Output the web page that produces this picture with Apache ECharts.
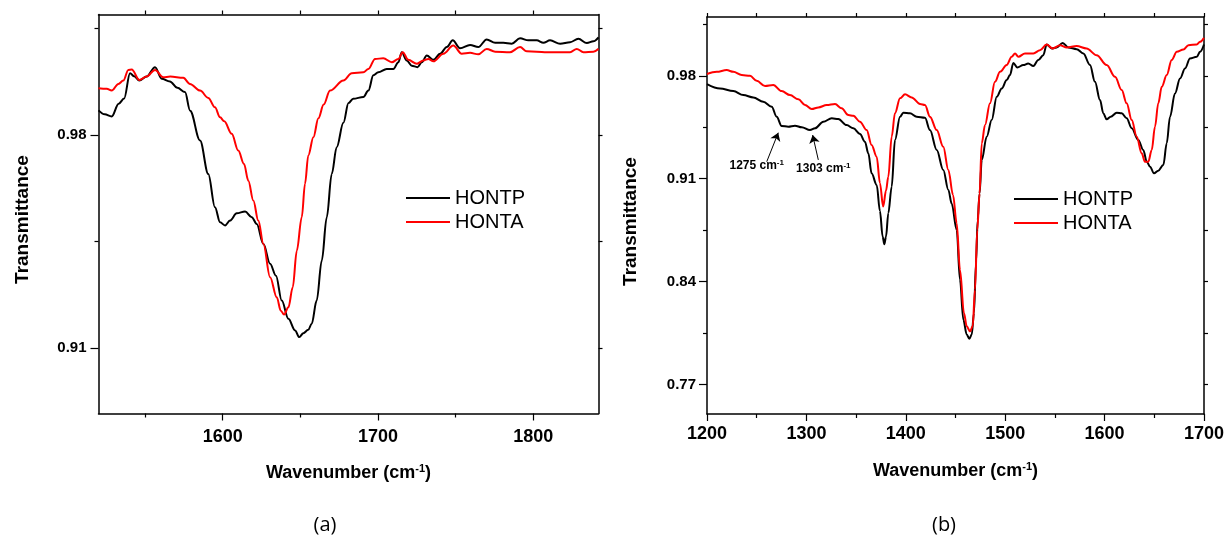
<!DOCTYPE html>
<html><head><meta charset="utf-8">
<script src="https://cdn.jsdelivr.net/npm/echarts@6/dist/echarts.min.js"></script>
<style>html,body{margin:0;padding:0;background:#fff}#c{width:1228px;height:537px}</style>
</head><body><div id="c"></div><script>
const FONT = '"Liberation Sans", Arial, Helvetica, sans-serif';

// ---- data: [wavenumber, transmittance] ----
const leftHONTP = [[1520,0.9881],[1524,0.9868],[1528.5,0.9861],[1533,0.9903],[1536.5,0.9920],[1540.3,1.0003],[1543,0.9993],[1546.3,0.9979],[1551,0.9992],[1556.4,1.0023],[1560.7,0.9985],[1566,0.9976],[1570.8,0.9955],[1575.7,0.9941],[1579,0.9880],[1585.4,0.9782],[1590.7,0.9672],[1595,0.9563],[1598.3,0.9513],[1601.5,0.9503],[1604.7,0.9519],[1609,0.9543],[1614.4,0.9549],[1618.7,0.9530],[1621.9,0.9508],[1626.2,0.9442],[1630.5,0.9377],[1634.3,0.9338],[1638,0.9256],[1642.3,0.9196],[1646.6,0.9158],[1649.3,0.9136],[1651.9,0.9149],[1655.1,0.9160],[1657.3,0.9180],[1660.5,0.9256],[1663.8,0.9388],[1667,0.9530],[1670.2,0.9672],[1673.4,0.9760],[1677.7,0.9840],[1681,0.9905],[1684,0.9919],[1690.6,0.9925],[1693.8,0.9946],[1697,0.9996],[1700.2,1.0006],[1705.6,1.0017],[1709.9,1.0017],[1713.1,1.0039],[1715.3,1.0072],[1718.5,1.0045],[1721.7,1.0028],[1725.4,1.0023],[1728.2,1.0039],[1731.4,1.0061],[1735.7,1.0047],[1740,1.0067],[1744.3,1.0089],[1748.1,1.0111],[1752.8,1.0085],[1759.3,1.0096],[1764.6,1.0089],[1770,1.0114],[1775.4,1.0103],[1780.7,1.0103],[1786.1,1.0100],[1791.5,1.0118],[1796.8,1.0111],[1802.2,1.0111],[1806.5,1.0103],[1810.8,1.0111],[1817.3,1.0100],[1823.7,1.0105],[1829,1.0116],[1834.5,1.0102],[1838.7,1.0108],[1842,1.0121]];
const leftHONTA = [[1520,0.9954],[1525.3,0.9952],[1528.5,0.9946],[1532.8,0.9968],[1536,0.9979],[1539.2,1.0014],[1541.4,1.0015],[1546.3,0.9981],[1551,0.9992],[1556.4,1.0014],[1561.7,0.9990],[1566.2,0.9992],[1574.6,0.9988],[1578.9,0.9968],[1585.4,0.9946],[1590.7,0.9922],[1595,0.9891],[1598.3,0.9858],[1601,0.9845],[1605.8,0.9804],[1610,0.9749],[1613.7,0.9705],[1616.5,0.9650],[1619.7,0.9585],[1622.9,0.9519],[1626.2,0.9442],[1630.5,0.9333],[1634.8,0.9267],[1637.4,0.9223],[1639.5,0.9210],[1642.3,0.9234],[1645.1,0.9300],[1647.7,0.9420],[1650.9,0.9530],[1653,0.9640],[1655.1,0.9733],[1658.4,0.9793],[1661.6,0.9855],[1665,0.9900],[1669.1,0.9946],[1677.7,0.9979],[1683.1,1.0003],[1690.6,1.0006],[1693.8,1.0017],[1698.1,1.0050],[1703.4,1.0052],[1708.9,1.0039],[1713.1,1.0050],[1715.9,1.0072],[1719.5,1.0047],[1725,1.0034],[1729.2,1.0045],[1732.4,1.0050],[1735.7,1.0042],[1742.1,1.0067],[1748.5,1.0094],[1753.9,1.0067],[1759.3,1.0070],[1764.6,1.0065],[1770,1.0083],[1775.4,1.0074],[1785,1.0072],[1791.5,1.0089],[1795.8,1.0075],[1802.2,1.0074],[1808.7,1.0072],[1817.3,1.0072],[1823.7,1.0072],[1828,1.0083],[1832.3,1.0072],[1838.7,1.0074],[1842,1.0083]];
const rightHONTP = [[1200,0.9744],[1213.1,0.9714],[1226.5,0.9696],[1236.5,0.9669],[1246.6,0.9653],[1256.6,0.9624],[1265.1,0.9590],[1270.1,0.9522],[1275.1,0.9459],[1281.8,0.9454],[1288.5,0.9461],[1295.3,0.9450],[1303.6,0.9431],[1308.7,0.9443],[1317,0.9488],[1325.5,0.9511],[1332.1,0.9506],[1340.5,0.9465],[1347.2,0.9443],[1353.9,0.9404],[1358.9,0.9352],[1362.3,0.9273],[1365.6,0.9137],[1370.7,0.9058],[1374,0.8880],[1376.7,0.8707],[1378.4,0.8655],[1380.1,0.8707],[1382.4,0.8866],[1385.8,0.9046],[1389.1,0.9363],[1394.2,0.9522],[1397.5,0.9549],[1404.2,0.9545],[1410.9,0.9522],[1419.3,0.9515],[1424.3,0.9431],[1431.1,0.9296],[1437.7,0.9160],[1442.8,0.9024],[1446.2,0.8930],[1451.2,0.8752],[1454.5,0.8413],[1457.9,0.8141],[1461.3,0.8040],[1463.9,0.8011],[1466.3,0.8040],[1468.6,0.8187],[1470.6,0.8526],[1472.3,0.8820],[1474.2,0.9000],[1476.4,0.9228],[1481.4,0.9386],[1486.4,0.9499],[1491.5,0.9657],[1496.5,0.9714],[1501.5,0.9771],[1504.8,0.9805],[1508.2,0.9888],[1512.2,0.9857],[1518.2,0.9873],[1523.2,0.9884],[1528.3,0.9866],[1533.3,0.9907],[1538.3,0.9940],[1541.7,1.0013],[1546.8,0.9986],[1551.8,0.9993],[1557.8,1.0024],[1563.5,0.9993],[1571.9,0.9981],[1578.6,0.9952],[1585.3,0.9873],[1590.3,0.9759],[1595.4,0.9635],[1598.7,0.9545],[1602.1,0.9504],[1606.1,0.9522],[1612.2,0.9549],[1617.2,0.9545],[1622.2,0.9511],[1627.3,0.9443],[1633.9,0.9363],[1638.9,0.9296],[1642.4,0.9216],[1645.7,0.9182],[1649.7,0.9137],[1654,0.9155],[1659.1,0.9194],[1662.5,0.9341],[1665.8,0.9522],[1670.8,0.9680],[1675.9,0.9782],[1680.9,0.9850],[1685.9,0.9918],[1692.7,0.9929],[1696,0.9963],[1700,1.0013]];
const rightHONTA = [[1200,0.9812],[1209.8,0.9827],[1219.8,0.9839],[1226.5,0.9827],[1234.9,0.9805],[1243.3,0.9800],[1250,0.9766],[1258.4,0.9730],[1266.7,0.9737],[1275.1,0.9696],[1283.5,0.9669],[1291.9,0.9640],[1298.6,0.9601],[1305.3,0.9574],[1312,0.9585],[1320.4,0.9601],[1328.8,0.9608],[1335.5,0.9579],[1342.2,0.9533],[1347.2,0.9528],[1353.9,0.9488],[1360.6,0.9431],[1365.6,0.9330],[1370.7,0.9250],[1374,0.9070],[1377.2,0.8911],[1380.1,0.9020],[1382.4,0.9114],[1385.8,0.9386],[1389.1,0.9545],[1394.2,0.9647],[1399.2,0.9674],[1405.9,0.9653],[1414.3,0.9608],[1419.3,0.9601],[1424.3,0.9522],[1431.1,0.9431],[1437.7,0.9318],[1442.8,0.9160],[1447.5,0.8990],[1451.2,0.8798],[1454.5,0.8481],[1458.5,0.8187],[1461.3,0.8096],[1464.6,0.8062],[1467.3,0.8096],[1469.6,0.8345],[1471.9,0.8752],[1474.2,0.9000],[1476.4,0.9341],[1479.7,0.9465],[1484.7,0.9613],[1489.7,0.9759],[1494.8,0.9827],[1501.5,0.9873],[1506.5,0.9929],[1509.9,0.9952],[1513.2,0.9929],[1519.9,0.9952],[1528.3,0.9952],[1535,0.9974],[1541.7,1.0013],[1547.8,0.9986],[1555.1,1.0008],[1561.9,0.9993],[1571.9,1.0002],[1581.9,0.9986],[1592,0.9940],[1602.1,0.9873],[1610.5,0.9793],[1617.2,0.9703],[1622.2,0.9613],[1627.3,0.9499],[1632.3,0.9386],[1637.3,0.9273],[1640.6,0.9216],[1644,0.9216],[1647.4,0.9296],[1650.7,0.9454],[1654,0.9613],[1657.5,0.9725],[1662.5,0.9805],[1667.5,0.9907],[1672.6,0.9963],[1679.3,0.9979],[1684.3,1.0008],[1692.7,1.0013],[1696,1.0031],[1700,1.0058]];

// ---- ticks ----
const leftXMajor = [1600, 1700, 1800];
const leftXMinor = [1550, 1650, 1750];
const leftYMajor = [0.91, 0.98];
const leftYMinor = [0.945, 1.015];
const rightXMajor = [1200, 1300, 1400, 1500, 1600, 1700];
const rightXMinor = [1250, 1350, 1450, 1550, 1650];
const rightYMajor = [0.77, 0.84, 0.91, 0.98];
const rightYMinor = [0.805, 0.875, 0.945, 1.015];

// ---- annotations (data coordinates) ----
const annoArrows = [[[1260.1, 0.9216], [1271.7, 0.9413]], [[1312, 0.9228], [1306.3, 0.9397]]];
const annoTexts = [{pos: [1250, 0.9189], num: '1275'}, {pos: [1317, 0.9171], num: '1303'}];

const LINE = {color: '#000', width: 1.5};
const TICK = {color: '#000', width: 1.2};

function xAxes(gi, min, max, majors, minors, margin, nameGap) {
  return [
    {gridIndex: gi, type: 'value', position: 'bottom', min, max,
      axisLine: {show: true, onZero: false, lineStyle: LINE},
      axisTick: {show: true, customValues: majors, length: 7, lineStyle: TICK},
      axisLabel: {show: true, customValues: majors, margin, color: '#000', fontFamily: FONT, fontWeight: 'bold', fontSize: 18, formatter: v => String(v)},
      splitLine: {show: false},
      name: 'Wavenumber (cm{sup|-1})', nameLocation: 'middle', nameGap,
      nameTextStyle: {color: '#000', fontFamily: FONT, fontWeight: 'bold', fontSize: 18,
        rich: {sup: {fontSize: 11, fontWeight: 'bold', fontFamily: FONT, color: '#000', verticalAlign: 'top', padding: [0, 0, 9, 0]}}}},
    {gridIndex: gi, type: 'value', position: 'bottom', min, max,
      axisLine: {show: false, onZero: false},
      axisTick: {show: true, customValues: minors, length: 4, lineStyle: TICK},
      axisLabel: {show: false}, splitLine: {show: false}},
    {gridIndex: gi, type: 'value', position: 'top', min, max,
      axisLine: {show: true, onZero: false, lineStyle: LINE},
      axisTick: {show: true, customValues: majors.concat(minors), length: 4, lineStyle: TICK},
      axisLabel: {show: false}, splitLine: {show: false}}
  ];
}
function yAxes(gi, min, max, majors, minors, margin, nameGap, shift) {
  return [
    {gridIndex: gi, type: 'value', position: 'left', min, max,
      axisLine: {show: true, onZero: false, lineStyle: LINE},
      axisTick: {show: true, customValues: majors, length: 8, lineStyle: TICK},
      axisLabel: {show: true, customValues: majors, margin, color: '#000', fontFamily: FONT, fontWeight: 'bold', fontSize: 15, formatter: v => v.toFixed(2)},
      splitLine: {show: false},
      name: 'Transmittance', nameLocation: 'middle', nameGap,
      nameTextStyle: {color: '#000', fontFamily: FONT, fontWeight: 'bold', fontSize: 19, padding: [0, shift, 0, 0]}},
    {gridIndex: gi, type: 'value', position: 'left', min, max,
      axisLine: {show: false, onZero: false},
      axisTick: {show: true, customValues: minors, length: 4, lineStyle: TICK},
      axisLabel: {show: false}, splitLine: {show: false}},
    {gridIndex: gi, type: 'value', position: 'right', min, max,
      axisLine: {show: true, onZero: false, lineStyle: LINE},
      axisTick: {show: true, customValues: majors.concat(minors), length: 4, lineStyle: TICK},
      axisLabel: {show: false}, splitLine: {show: false}}
  ];
}

function lineSeries(name, color, data, xi, yi, extra) {
  return Object.assign({type: 'line', name, data, xAxisIndex: xi, yAxisIndex: yi,
    color, symbol: 'none', showSymbol: false, smooth: 0.35, smoothMonotone: 'x',
    lineStyle: {color, width: 2}, animation: false, silent: true}, extra || {});
}

const legendBase = {orient: 'vertical', icon: 'rect', itemWidth: 44, itemHeight: 2, itemGap: 4,
  selectedMode: false, data: ['HONTP', 'HONTA'],
  textStyle: {fontFamily: FONT, fontSize: 20, color: '#000', lineHeight: 20}};

const annoLabelRich = {t: {fontSize: 12, fontWeight: 'bold', fontFamily: FONT, color: '#000'},
  s: {fontSize: 8, fontWeight: 'bold', fontFamily: FONT, color: '#000', verticalAlign: 'top', padding: [0, 0, 6, 0]}};

const option = {
  backgroundColor: '#fff',
  animation: false,
  grid: [
    {left: 98.5, top: 14.5, width: 500, height: 399},
    {left: 707, top: 17, width: 497, height: 397}
  ],
  xAxis: xAxes(0, 1520, 1842, leftXMajor, leftXMinor, 15, 50).concat(xAxes(1, 1200, 1700, rightXMajor, rightXMinor, 11, 47)),
  yAxis: yAxes(0, 0.8885, 1.0196, leftYMajor, leftYMinor, 12, 66, 11).concat(yAxes(1, 0.75, 1.02, rightYMajor, rightYMinor, 11, 67, 12)),
  legend: [
    Object.assign({left: 401, top: 183}, legendBase),
    Object.assign({left: 1009, top: 184}, legendBase)
  ],
  series: [
    lineSeries('HONTP', '#000000', leftHONTP, 0, 0),
    lineSeries('HONTA', '#ff0000', leftHONTA, 0, 0),
    lineSeries('HONTP', '#000000', rightHONTP, 3, 3, {
      markLine: {silent: true, animation: false, symbol: ['none', 'arrow'], symbolSize: 8,
        lineStyle: {color: '#000', width: 1, type: 'solid'}, label: {show: false},
        data: annoArrows.map(a => [{coord: a[0]}, {coord: a[1]}])},
      markPoint: {silent: true, animation: false, symbol: 'circle', symbolSize: 1,
        itemStyle: {color: 'rgba(0,0,0,0)'},
        label: {show: true, position: 'inside', rich: annoLabelRich},
        data: annoTexts.map(t => ({coord: t.pos, label: {formatter: '{t|' + t.num + ' cm}{s|-1}'}}))}
    }),
    lineSeries('HONTA', '#ff0000', rightHONTA, 3, 3)
  ],
  graphic: [
    {type: 'text', x: 325, y: 525, style: {text: '(a)', font: '20px "Open Sans", "Noto Sans", sans-serif', align: 'center', verticalAlign: 'middle', fill: '#000'}},
    {type: 'text', x: 944, y: 525, style: {text: '(b)', font: '20px "Open Sans", "Noto Sans", sans-serif', align: 'center', verticalAlign: 'middle', fill: '#000'}}
  ]
};

const chart = echarts.init(document.getElementById('c'), null, {renderer: 'canvas'});
chart.setOption(option);
</script></body></html>
